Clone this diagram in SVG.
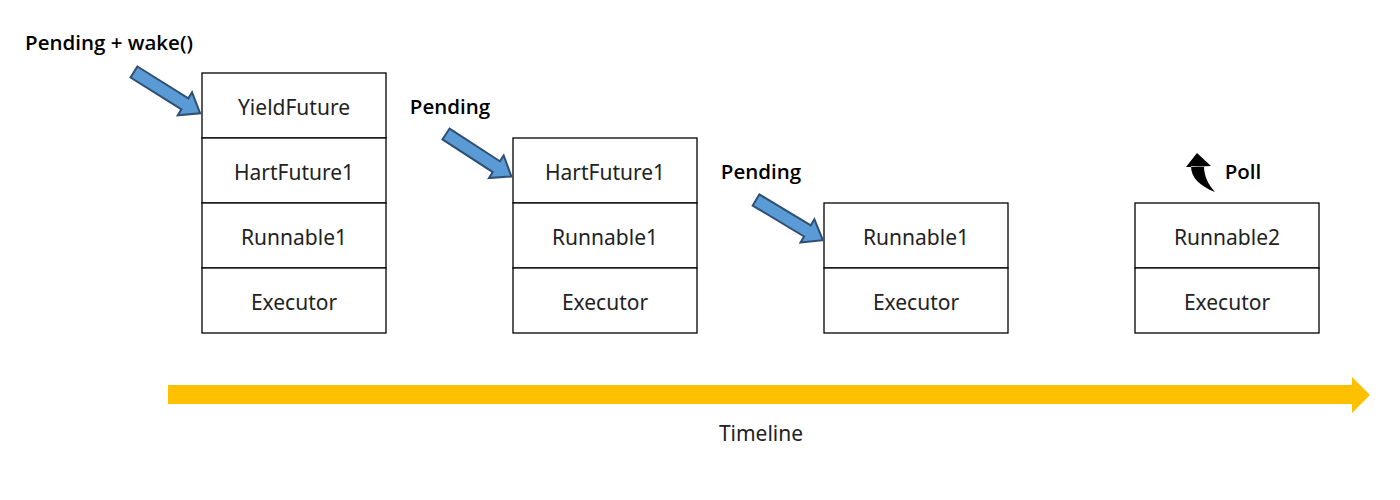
<svg xmlns="http://www.w3.org/2000/svg" width="1400" height="500" viewBox="0 0 1400 500">
<defs>
<style>
.box{fill:#fff;stroke:#000;stroke-width:1.3}
.t{font-family:"Noto Sans","Open Sans",sans-serif;font-size:21px;fill:#222;text-anchor:middle}
.lbl{font-family:"Open Sans","Noto Sans",sans-serif;font-size:20.5px;font-weight:600;fill:#000;text-anchor:middle}
.blue{fill:#5B9BD5;stroke:#2F4F74;stroke-width:2;stroke-linejoin:miter}
</style>
<polygon id="barrow" points="0,-6.5 60,-6.5 60,-13.5 78,0 60,13.5 60,6.5 0,6.5"/>
</defs>
<rect width="1400" height="500" fill="#fff"/>
<g id="stack1">
<rect class="box" x="202" y="73" width="184" height="65"/>
<rect class="box" x="202" y="138" width="184" height="65"/>
<rect class="box" x="202" y="203" width="184" height="65"/>
<rect class="box" x="202" y="268" width="184" height="65"/>
<text class="t" x="294" y="115">YieldFuture</text>
<text class="t" x="294" y="180">HartFuture1</text>
<text class="t" x="294" y="245">Runnable1</text>
<text class="t" x="294" y="310">Executor</text>
</g>
<g id="stack2">
<rect class="box" x="513" y="138" width="184" height="65"/>
<rect class="box" x="513" y="203" width="184" height="65"/>
<rect class="box" x="513" y="268" width="184" height="65"/>
<text class="t" x="605" y="180">HartFuture1</text>
<text class="t" x="605" y="245">Runnable1</text>
<text class="t" x="605" y="310">Executor</text>
</g>
<g id="stack3">
<rect class="box" x="824" y="203" width="184" height="65"/>
<rect class="box" x="824" y="268" width="184" height="65"/>
<text class="t" x="916" y="245">Runnable1</text>
<text class="t" x="916" y="310">Executor</text>
</g>
<g id="stack4">
<rect class="box" x="1135" y="203" width="184" height="65"/>
<rect class="box" x="1135" y="268" width="184" height="65"/>
<text class="t" x="1227" y="245">Runnable2</text>
<text class="t" x="1227" y="310">Executor</text>
</g>
<g id="labels">
<text class="lbl" x="109" y="50">Pending + wake()</text>
<text class="lbl" x="450" y="114">Pending</text>
<text class="lbl" x="761" y="179">Pending</text>
<text class="lbl" x="1243" y="179">Poll</text>
<text class="t" x="761" y="441">Timeline</text>
</g>
<g id="connectors">
<use href="#barrow" class="blue" transform="translate(134,72) rotate(32)"/>
<use href="#barrow" class="blue" transform="translate(446,134) rotate(33)"/>
<use href="#barrow" class="blue" transform="translate(756,200) rotate(31)"/>
<path d="M1186,167 L1197,153 L1211,166 Z M1191,166 C1191,178 1200,186 1215,192 C1208,184 1204,176 1204,166 Z" fill="#000"/>
<polygon points="168,385 1352,385 1352,377 1370,395 1352,413 1352,404 168,404" fill="#FFC000"/>
</g>
</svg>
